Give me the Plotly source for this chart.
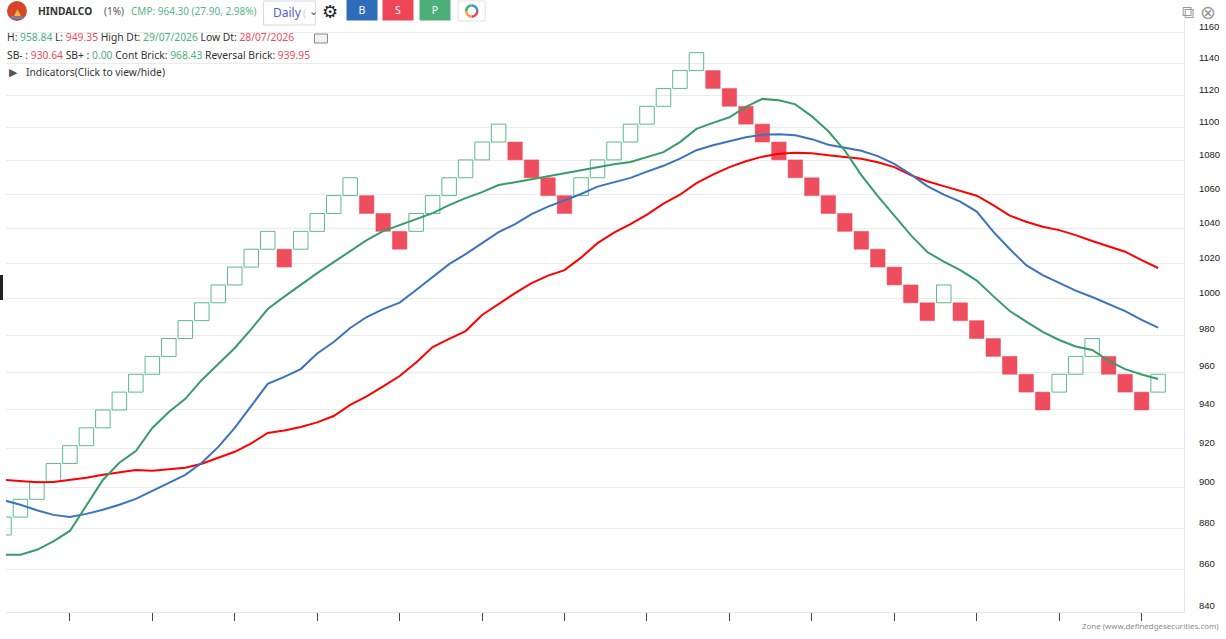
import math
import plotly.graph_objects as go

# brick columns (one per renko brick), 1% box size
brick_open = [876.71, 885.48, 894.33, 903.27, 912.31, 921.43, 930.64, 939.95, 949.35, 958.84,
              968.43, 978.12, 987.90, 997.78, 1007.75, 1017.83, 1028.01, 1028.01, 1028.01, 1038.29,
              1048.67, 1059.16, 1059.16, 1048.67, 1038.29, 1038.29, 1048.67, 1059.16, 1069.75, 1080.45,
              1091.25, 1091.25, 1080.45, 1069.75, 1059.16, 1059.16, 1069.75, 1080.45, 1091.25, 1102.17,
              1113.19, 1124.32, 1135.56, 1135.56, 1124.32, 1113.19, 1102.17, 1091.25, 1080.45, 1069.75,
              1059.16, 1048.67, 1038.29, 1028.01, 1017.83, 1007.75, 997.78, 997.78, 997.78, 987.90,
              978.12, 968.43, 958.84, 949.35, 949.35, 958.84, 968.43, 968.43, 958.84, 949.35,
              949.35]
brick_close = [885.48, 894.33, 903.27, 912.31, 921.43, 930.64, 939.95, 949.35, 958.84, 968.43,
               978.12, 987.90, 997.78, 1007.75, 1017.83, 1028.01, 1038.29, 1017.83, 1038.29, 1048.67,
               1059.16, 1069.75, 1048.67, 1038.29, 1028.01, 1048.67, 1059.16, 1069.75, 1080.45, 1091.25,
               1102.17, 1080.45, 1069.75, 1059.16, 1048.67, 1069.75, 1080.45, 1091.25, 1102.17, 1113.19,
               1124.32, 1135.56, 1146.92, 1124.32, 1113.19, 1102.17, 1091.25, 1080.45, 1069.75, 1059.16,
               1048.67, 1038.29, 1028.01, 1017.83, 1007.75, 997.78, 987.90, 1007.75, 987.90, 978.12,
               968.43, 958.84, 949.35, 939.95, 958.84, 968.43, 978.12, 958.84, 949.35, 939.95,
               958.84]

# moving averages on the bricks
ma_fast = [867.1, 867.1, 869.5, 873.6, 878.7, 891.2, 904.0, 912.7, 918.7, 930.6,
           938.9, 945.8, 955.8, 964.3, 973.0, 983.3, 994.3, 1001.2, 1008.0, 1014.4,
           1020.6, 1026.9, 1033.2, 1038.4, 1041.9, 1045.4, 1048.9, 1053.6, 1057.7, 1061.2,
           1065.4, 1067.1, 1068.9, 1070.7, 1072.5, 1074.0, 1076.1, 1077.8, 1079.2, 1082.1,
           1085.1, 1091.2, 1099.3, 1103.0, 1106.4, 1112.8, 1117.8, 1116.9, 1114.4, 1107.0,
           1097.8, 1086.0, 1071.3, 1058.8, 1047.7, 1036.1, 1026.4, 1020.9, 1016.1, 1010.2,
           1001.5, 993.2, 987.4, 981.7, 977.3, 973.8, 971.9, 966.0, 961.6, 958.7,
           956.3]
ma_mid = [893.8, 891.6, 888.9, 886.6, 885.6, 887.1, 889.1, 891.6, 894.5, 898.3,
          902.5, 906.6, 912.7, 920.8, 930.6, 942.1, 953.7, 957.4, 961.6, 970.0,
          976.2, 983.9, 989.9, 994.3, 997.9, 1004.9, 1012.2, 1019.5, 1025.2, 1031.5,
          1037.8, 1042.5, 1048.3, 1052.7, 1056.5, 1060.1, 1064.5, 1067.1, 1069.7, 1073.4,
          1076.9, 1081.2, 1086.3, 1089.3, 1091.8, 1094.2, 1095.7, 1096.0, 1095.4, 1093.0,
          1089.6, 1087.8, 1086.0, 1082.7, 1078.1, 1071.8, 1064.8, 1059.7, 1055.6, 1049.8,
          1038.1, 1028.1, 1018.9, 1013.3, 1008.8, 1004.6, 1001.0, 997.1, 993.2, 988.3,
          984.1]
ma_slow = [904.0, 903.3, 902.9, 903.0, 904.0, 905.1, 906.6, 907.8, 909.0, 908.6,
           909.5, 910.2, 912.2, 915.1, 918.3, 922.6, 928.0, 929.3, 931.1, 933.5,
           936.8, 942.6, 947.1, 952.4, 957.9, 965.1, 973.5, 977.9, 982.2, 991.0,
           997.1, 1003.2, 1008.8, 1013.0, 1016.1, 1023.2, 1031.5, 1037.5, 1042.5, 1048.0,
           1054.4, 1059.7, 1066.5, 1071.6, 1076.1, 1079.6, 1082.4, 1084.2, 1084.7, 1084.4,
           1083.3, 1082.4, 1081.2, 1079.0, 1076.1, 1071.3, 1067.7, 1064.8, 1061.8, 1059.1,
           1053.6, 1047.4, 1043.9, 1041.0, 1039.0, 1036.1, 1032.7, 1029.5, 1026.6, 1021.8,
           1017.3]

price_ticks = [840, 860, 880, 900, 920, 940, 960, 980, 1000, 1020,
               1040, 1060, 1080, 1100, 1120, 1140, 1160]

GREEN_TXT = "#4caf7f"
RED_TXT = "#ec4a5c"
DARK = "#333333"

n = len(brick_open)
cols = list(range(n))
up_x, up_base, up_size, dn_x, dn_base, dn_size = [], [], [], [], [], []
for i in cols:
    lo = min(brick_open[i], brick_close[i])
    hi = max(brick_open[i], brick_close[i])
    if brick_close[i] > brick_open[i]:
        up_x.append(i); up_base.append(lo); up_size.append(hi - lo)
    else:
        dn_x.append(i); dn_base.append(lo); dn_size.append(hi - lo)

fig = go.Figure()
fig.add_trace(go.Bar(x=up_x, y=up_size, base=up_base, width=0.88,
                     marker=dict(color="rgba(255,255,255,0)", line=dict(color="#5dba8c", width=1))))
fig.add_trace(go.Bar(x=dn_x, y=dn_size, base=dn_base, width=0.88,
                     marker=dict(color="#ee4d5e", line=dict(color="#ee4d5e", width=0.5))))
fig.add_trace(go.Scatter(x=cols, y=ma_slow, mode="lines", line=dict(color="#ff0000", width=2)))
fig.add_trace(go.Scatter(x=cols, y=ma_mid, mode="lines", line=dict(color="#3b73bf", width=2)))
fig.add_trace(go.Scatter(x=cols, y=ma_fast, mode="lines", line=dict(color="#3a9b6a", width=2)))

# pixel -> paper helpers for the header widgets
L, T, W, H = 6, 20, 1180, 592
def px(x):
    return (x - L) / W
def py(y):
    return (T + H - y) / H

def label(x, y, text, size=10.3, color=DARK, anchor="left", family="Noto Sans", **kw):
    fig.add_annotation(x=px(x), y=py(y), xref="paper", yref="paper", text=text, showarrow=False,
                       xanchor=anchor, yanchor="middle", font=dict(size=size, color=color, family=family),
                       borderpad=0, **kw)

def sp(txt, c):
    return f"<span style='color:{c}'>{txt}</span>"

def rect(x0, x1, y0, y1, fill, line=None):
    return dict(type="rect", xref="paper", yref="paper", x0=px(x0), x1=px(x1), y0=py(y1), y1=py(y0),
                fillcolor=fill, line=line or dict(width=0))

shapes = []
# logo
shapes.append(dict(type="circle", xref="paper", yref="paper", x0=px(7), x1=px(27), y0=py(21), y1=py(1),
                   fillcolor="#d8452b", line=dict(width=0)))
shapes.append(rect(11, 23, 16, 19, "#6d7fb0"))
# dropdown box, ring button, comment icon, left handle
shapes.append(rect(264, 316, 1, 25, "white", dict(color="#d9d9d9", width=1)))
shapes.append(rect(459, 486, 1, 21, "white", dict(color="#e3e3e3", width=1)))
shapes.append(rect(315, 328, 34, 43, "#f2f2f2", dict(color="#888888", width=1)))
shapes.append(rect(0, 3, 275, 300, "#222222"))
# four coloured quarter arcs of the ring icon
for k, c in enumerate(["#2d9be0", "#3cb371", "#f7a23b", "#ef4558"]):
    pts = [(5.5 * math.cos(math.radians(90 * k + a)), 5.5 * math.sin(math.radians(90 * k + a)))
           for a in range(0, 91, 10)]
    path = "M" + " L".join(f"{x:.2f},{y:.2f}" for x, y in pts)
    shapes.append(dict(type="path", xref="paper", yref="paper", xsizemode="pixel", ysizemode="pixel",
                       xanchor=px(472.5), yanchor=py(11), path=path, line=dict(color=c, width=2.5)))
fig.update_layout(shapes=shapes)

label(13, 12, "▲", size=9, color="#f6b33c", family="DejaVu Sans")
label(37, 11, "<b>HINDALCO</b>", size=10.2)
label(103, 11, "(1%)", size=10, color="#555555")
label(130, 11, "CMP: 964.30 (27.90, 2.98%)", size=10, color="#57b585")
label(272, 13, "Daily", size=12, color="#4a5fd3")
label(303, 13, "(", size=11, color="#f3c6cc")
label(309, 12, "⌄", size=11, color="#555555", family="DejaVu Sans")
label(331, 11, "⚙", size=18, color="#222222", anchor="center", family="DejaVu Sans")
for cx, txt, bg in [(363, "B", "#2f6cb9"), (399, "S", "#ef4558"), (436, "P", "#4caf78")]:
    fig.add_annotation(x=px(cx), y=py(10.5), xref="paper", yref="paper", text=txt, showarrow=False,
                       xanchor="center", yanchor="middle", width=30, height=20, bgcolor=bg, borderpad=0,
                       font=dict(size=10.5, color="white", family="Noto Sans"))

label(6, 37, "H: " + sp("958.84", GREEN_TXT) + " L: " + sp("949.35", RED_TXT)
      + " High Dt: " + sp("29/07/2026", GREEN_TXT) + " Low Dt: " + sp("28/07/2026", RED_TXT))
label(6, 55, "SB- : " + sp("930.64", RED_TXT) + " SB+ : " + sp("0.00", GREEN_TXT)
      + " Cont Brick: " + sp("968.43", GREEN_TXT) + " Reversal Brick: " + sp("939.95", RED_TXT))
label(8, 72, "▶", size=11, color="#555555", family="DejaVu Sans")
label(25, 72, "Indicators(Click to view/hide)")
label(1190, 12, "⧉", size=17, color="#9a9a9a", anchor="center", family="DejaVu Sans")
label(1210, 12, "⊗", size=19, color="#9a9a9a", anchor="center", family="DejaVu Sans")
label(1222, 626, "Zone (www.definedgesecurities.com)", size=7.9, color="#8a8a8a", anchor="right")

fig.update_layout(
    width=1226, height=639,
    margin=dict(l=L, r=1226 - L - W, t=T, b=639 - T - H),
    paper_bgcolor="white", plot_bgcolor="white",
    showlegend=False, barmode="overlay", hovermode=False,
    font=dict(family="Noto Sans", size=10, color=DARK),
    xaxis=dict(range=[0.125, 71.57], showgrid=False, zeroline=False, showline=True,
               linecolor="#e6e6e6", linewidth=1, ticks="outside", ticklen=8, tickcolor="#444444",
               tickwidth=1, tickvals=list(range(4, n, 5)), showticklabels=False),
    yaxis=dict(type="log", side="right", range=[2.92423, 3.06745], tickvals=price_ticks,
               ticktext=[str(v) for v in price_ticks], showgrid=True, gridcolor="#ebebeb",
               zeroline=False, showline=True, linecolor="#e6e6e6", ticks="",
               ticklabelstandoff=12, ticklabelshift=-6,
               tickfont=dict(family="Liberation Sans", size=9.5, color="#222222")),
)

fig.write_html("out.html", config={"displayModeBar": False},
               post_script="document.body.style.margin='0';")
